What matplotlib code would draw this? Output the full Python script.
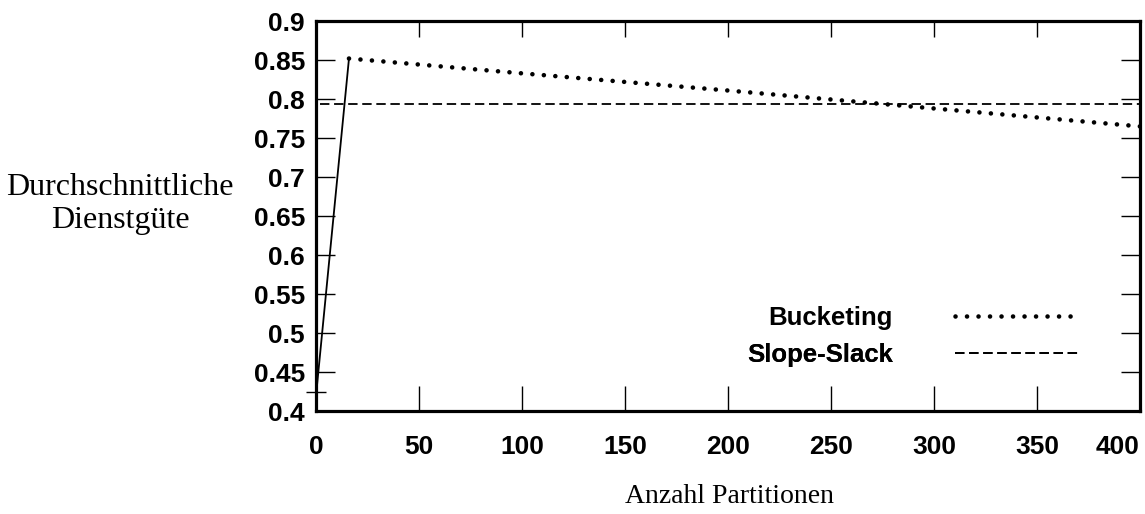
import matplotlib
matplotlib.use("Agg")
from matplotlib import pyplot as plt

# values
start_x = [0, 16]
start_y = [0.42, 0.852]

bucketing_x = [16, 100, 200, 300, 400]
bucketing_y = [0.852, 0.833, 0.811, 0.788, 0.765]

slope_x = [2, 400]
slope_y = [0.794, 0.794]

x_ticks = [0, 50, 100, 150, 200, 250, 300, 350, 400]
y_ticks = [0.4, 0.45, 0.5, 0.55, 0.6, 0.65, 0.7, 0.75, 0.8, 0.85, 0.9]
y_labels = ["0.4", "0.45", "0.5", "0.55", "0.6", "0.65", "0.7", "0.75", "0.8", "0.85", "0.9"]

fig = plt.figure(figsize=(11.45, 5.14), dpi=100)
ax = fig.add_axes([0.276, 0.2, 0.7196, 0.759])

ax.plot(start_x, start_y, color="black", lw=1.3, solid_capstyle="butt")
bl, = ax.plot(bucketing_x, bucketing_y, color="black", lw=3.3,
              linestyle=(0, (0.01, 2.5)), dash_capstyle="round")
sl, = ax.plot(slope_x, slope_y, color="black", lw=1.3, linestyle=(0, (5.2, 2.6)))

ax.set_xlim(0, 400)
ax.set_ylim(0.4, 0.9)
ax.set_xticks(x_ticks)
ax.set_yticks(y_ticks)
ax.set_yticklabels(y_labels)
ax.set_yticks([0.425], minor=True)
ax.set_xticks([], minor=True)

for s in ax.spines.values():
    s.set_linewidth(2.3)

bold = {"family": "Liberation Sans", "weight": "bold", "size": 19}
for t in ax.get_xticklabels() + ax.get_yticklabels():
    t.set_fontproperties(matplotlib.font_manager.FontProperties(**bold))
# last x label sits against the right border
ax.get_xticklabels()[-1].set_ha("right")

ax.tick_params(axis="both", which="major", direction="in", width=1.0, color="black")
ax.tick_params(axis="x", which="major", length=18, pad=17, top=True)
ax.tick_params(axis="y", which="major", length=13.5, pad=8, right=True)
ax.tick_params(axis="y", which="minor", direction="inout", length=14, width=1.0,
               left=True, right=False)

# top ticks are shorter than bottom ones
for tk in ax.xaxis.get_major_ticks():
    tk.tick2line.set_markersize(11.5)

fig.text(0.105, 0.603, "Durchschnittliche\nDienstgüte", ha="center", va="center",
         family="Liberation Serif", fontsize=23, linespacing=1.15)
fig.text(0.637, 0.021, "Anzahl Partitionen", ha="center", va="baseline",
         family="Liberation Serif", fontsize=20)

leg_font = {"family": "Liberation Sans", "weight": "bold", "size": 18.5}
for handle, name, ypos in [(bl, "Bucketing", 0.381), (sl, "Slope-Slack", 0.309)]:
    lg = ax.legend([handle], [name], loc="center right", bbox_to_anchor=(0.9415, ypos),
                   bbox_transform=fig.transFigure, frameon=False, markerfirst=False,
                   handlelength=4.8, handletextpad=2.4, borderpad=0, borderaxespad=0,
                   prop=leg_font)
    ax.add_artist(lg)

fig.savefig("out.png", dpi=100)
